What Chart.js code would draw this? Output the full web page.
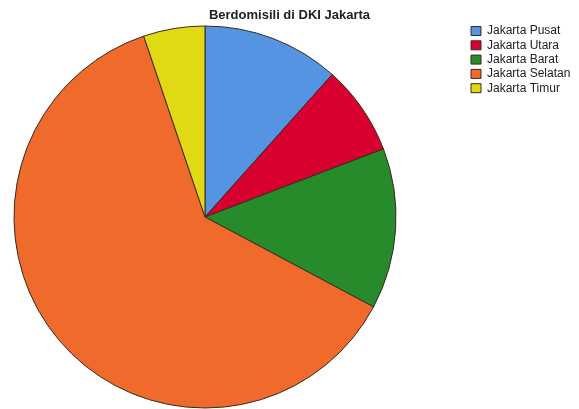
<!DOCTYPE html>
<html>
<head>
<meta charset="utf-8">
<script src="https://cdn.jsdelivr.net/npm/chart.js@4/dist/chart.umd.min.js"></script>
<style>
  html, body { margin: 0; padding: 0; background: #ffffff; }
  #wrap { position: relative; width: 579px; height: 409px; }
</style>
</head>
<body>
<div id="wrap"><canvas id="c" width="579" height="409"></canvas></div>
<script>
const titleText = "Berdomisili di DKI Jakarta";
const categories = ["Jakarta Pusat", "Jakarta Utara", "Jakarta Barat", "Jakarta Selatan", "Jakarta Timur"];
const counts = [29, 19, 34, 155, 13];
const sliceColors = ["#5594E2", "#D7002F", "#278A2B", "#F06A2C", "#E2D915"];

const legendPlacer = {
  id: 'legendPlacer',
  beforeLayout(chart) {
    const lg = chart.legend;
    if (lg && !lg._patched) {
      const orig = lg.fit;
      lg.fit = function () { orig.call(this); this.width = 169; };
      lg._patched = true;
    }
  },
  afterLayout(chart) {
    const lg = chart.legend;
    if (!lg) return;
    const pad = lg.options.labels.padding;
    const w = lg.width, h = lg.height;
    lg.left = 471 - pad;
    lg.right = lg.left + w;
    lg.top = 31 - 6 - pad;
    lg.bottom = lg.top + h;
  }
};

new Chart(document.getElementById('c'), {
  type: 'pie',
  data: {
    labels: categories,
    datasets: [{
      data: counts,
      backgroundColor: sliceColors,
      borderColor: "#3a2a22",
      borderWidth: 1
    }]
  },
  options: {
    responsive: false,
    animation: false,
    devicePixelRatio: 1,
    layout: { padding: { left: 0, right: 0, top: 0, bottom: 0.5 } },
    plugins: {
      title: {
        display: true,
        text: titleText,
        color: "#222222",
        font: { family: "'Liberation Sans', Arial, sans-serif", size: 13, weight: 'bold' },
        padding: { top: 7.2, bottom: 2.7 }
      },
      legend: {
        display: true,
        position: 'right',
        align: 'start',
        labels: {
          boxWidth: 10,
          boxHeight: 9,
          padding: 2.3,
          color: "#222222",
          font: { family: "'Liberation Sans', Arial, sans-serif", size: 12 }
        }
      },
      tooltip: { enabled: false }
    }
  },
  plugins: [legendPlacer]
});
</script>
</body>
</html>
